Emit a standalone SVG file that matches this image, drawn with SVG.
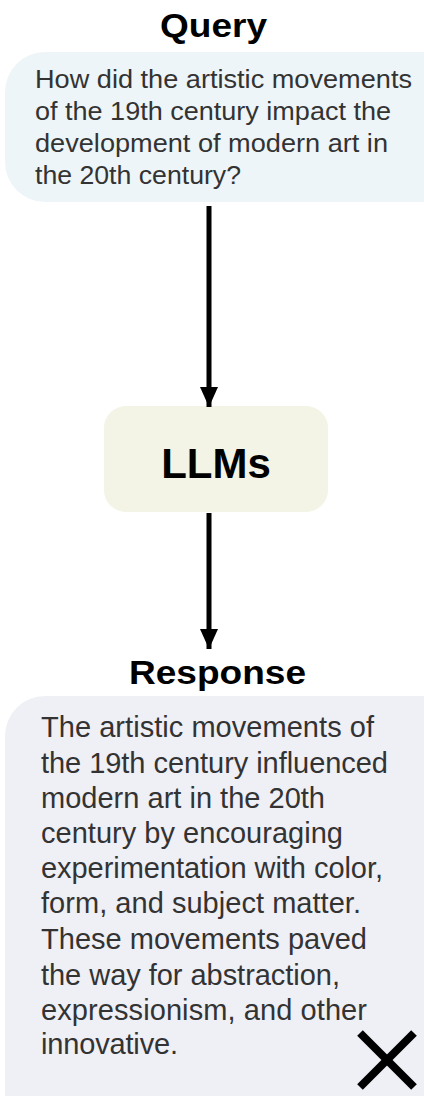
<svg xmlns="http://www.w3.org/2000/svg" width="424" height="1096" viewBox="0 0 424 1096">
  <style>
    .title { font-family: "Liberation Sans", Arial, sans-serif; font-weight: bold; fill: #000; text-anchor: middle; }
    .body { font-family: "Liberation Sans", Arial, sans-serif; fill: #333; }
    .edge { stroke: #000; stroke-width: 5; fill: none; }
  </style>
  <defs>
    <marker id="arrow" viewBox="0 0 20 18" refX="20" refY="9" markerUnits="userSpaceOnUse" markerWidth="20" markerHeight="18" orient="auto">
      <path d="M0,0 L20,9 L0,18 Z" fill="#000"/>
    </marker>
  </defs>

  <rect width="424" height="1096" fill="#fff"/>

  <!-- Query -->
  <g id="query">
    <text class="title" x="213.5" y="37" font-size="33" textLength="107" lengthAdjust="spacingAndGlyphs">Query</text>
    <rect x="5" y="52" width="460" height="150" rx="40" fill="#EEF5F8"/>
    <g class="body" font-size="25">
      <text x="35" y="88" textLength="377" lengthAdjust="spacingAndGlyphs">How did the artistic movements</text>
      <text x="35" y="120" textLength="356" lengthAdjust="spacingAndGlyphs">of the 19th century impact the</text>
      <text x="35" y="152" textLength="353" lengthAdjust="spacingAndGlyphs">development of modern art in</text>
      <text x="35" y="184" textLength="206" lengthAdjust="spacingAndGlyphs">the 20th century?</text>
    </g>
  </g>

  <!-- LLMs -->
  <g id="llms">
    <rect x="104" y="406" width="224" height="106" rx="22" fill="#F3F3E6"/>
    <text class="title" x="216" y="478" font-size="42">LLMs</text>
  </g>

  <!-- Response -->
  <g id="response">
    <text class="title" x="217.5" y="684" font-size="33" textLength="177" lengthAdjust="spacingAndGlyphs">Response</text>
    <rect x="5" y="696" width="460" height="440" rx="40" fill="#EFEFF6"/>
    <g class="body" font-size="29">
      <text x="41" y="737" textLength="333" lengthAdjust="spacing">The artistic movements of</text>
      <text x="41" y="773" textLength="347" lengthAdjust="spacing">the 19th century influenced</text>
      <text x="41" y="808" textLength="284" lengthAdjust="spacing">modern art in the 20th</text>
      <text x="41" y="843" textLength="302" lengthAdjust="spacing">century by encouraging</text>
      <text x="41" y="878" textLength="342" lengthAdjust="spacing">experimentation with color,</text>
      <text x="41" y="913" textLength="320" lengthAdjust="spacing">form, and subject matter.</text>
      <text x="41" y="949" textLength="326" lengthAdjust="spacing">These movements paved</text>
      <text x="41" y="985" textLength="299" lengthAdjust="spacing">the way for abstraction,</text>
      <text x="41" y="1020" textLength="326" lengthAdjust="spacing">expressionism, and other</text>
      <text x="41" y="1054" textLength="137" lengthAdjust="spacing">innovative.</text>
    </g>
    <!-- cross mark -->
    <g stroke="#000" stroke-width="8">
      <line x1="360" y1="1033" x2="414" y2="1087"/>
      <line x1="414" y1="1033" x2="360" y2="1087"/>
    </g>
  </g>

  <!-- connectors -->
  <g id="connectors">
    <line class="edge" x1="209" y1="206" x2="209" y2="407" marker-end="url(#arrow)"/>
    <line class="edge" x1="209" y1="513" x2="209" y2="649" marker-end="url(#arrow)"/>
  </g>
</svg>
